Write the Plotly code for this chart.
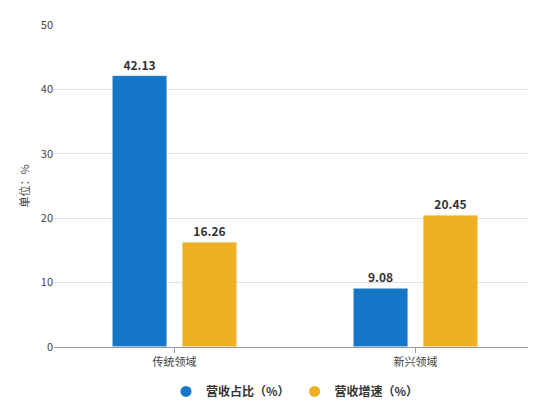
import plotly.graph_objects as go

categories = ["传统领域", "新兴领域"]
share = [42.13, 9.08]
growth = [16.26, 20.45]
names = ["营收占比（%）", "营收增速（%）"]
colors = ["#1677c8", "#efb024"]

fig = go.Figure()
for vals, name, col in zip([share, growth], names, colors):
    fig.add_trace(go.Bar(x=categories, y=vals, name=name, marker_color=col, showlegend=False,
                         text=[f"{v:.2f}" for v in vals], textposition="outside",
                         textfont=dict(size=12, color="#333", family="Noto Sans CJK SC", weight="bold"),
                         cliponaxis=False))
for name, col in zip(names, colors):
    fig.add_trace(go.Scatter(x=[None], y=[None], mode="markers", name=name,
                             marker=dict(symbol="circle", size=11, color=col)))

fig.update_layout(
    width=536, height=402,
    margin=dict(l=46, r=8, t=15, b=51),
    plot_bgcolor="white", paper_bgcolor="white",
    barmode="group", bargap=0.42, bargroupgap=0.22,
    font=dict(family="Noto Sans CJK SC", size=11, color="#444"),
    legend=dict(orientation="h", x=0.5, xanchor="center", y=0.01, yanchor="bottom",
                yref="container", font=dict(size=12, color="#333", weight="bold")),
)
fig.update_yaxes(range=[0, 50], dtick=10, gridcolor="#e0e0e0", zeroline=False,
                 title=dict(text="单位：%", font=dict(size=11), standoff=8), ticks="", showline=False)
fig.update_xaxes(showline=True, linecolor="#999", ticks="outside", tickcolor="#999",
                 ticklen=5, showgrid=False)

fig.write_html("out.html")
